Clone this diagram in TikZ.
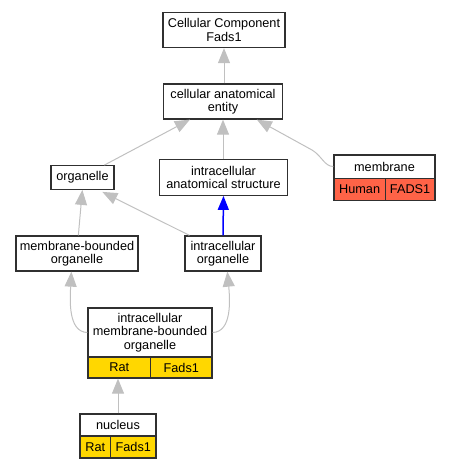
\documentclass[tikz,border=0pt]{standalone}
\usepackage{fontspec}
\setmainfont{Liberation Sans}
\usetikzlibrary{arrows.meta,calc}
\definecolor{edgegray}{HTML}{C0C0C0}
\definecolor{boxline}{HTML}{303030}
\definecolor{tomatofill}{HTML}{FF6347}
\definecolor{goldfill}{HTML}{FFD700}
\tikzset{
  box/.style={draw=boxline, line width=1.3pt, fill=white, inner sep=0pt, align=center,
    font=\fontsize{12.7}{13.5}\selectfont},
  humancell/.style={box, fill=tomatofill},
  ratcell/.style={box, fill=goldfill},
  edge/.style={draw=edgegray, line width=1pt, -{Triangle[length=15pt,width=12pt,fill=edgegray]}},
  blueedge/.style={draw=blue, line width=1.5pt, -{Triangle[length=14pt,width=11pt,fill=blue]}}
}
\begin{document}
\begin{tikzpicture}[x=1pt,y=-1pt]
\useasboundingbox (0,0) rectangle (449,469);
% nodes
\node[box, minimum width=122pt, minimum height=35pt] (cc) at (224,30) {Cellular Component\\Fads1};
\node[box, minimum width=119pt, minimum height=35pt] (cae) at (223,101.5) {cellular anatomical\\entity};
\node[box, minimum width=63pt, minimum height=23.5pt] (org) at (82.5,177.5) {organelle};
\node[box, minimum width=128pt, minimum height=35.5pt] (ias) at (223.5,177.5) {intracellular\\anatomical structure};
\node[box, minimum width=101pt, minimum height=23.3pt] (memh) at (384.5,166.6) {membrane};
\node[humancell, minimum width=51.3pt, minimum height=22.4pt] (memA) at (359.6,189.5) {Human};
\node[humancell, minimum width=49.7pt, minimum height=22.4pt] (memB) at (410.1,189.5) {FADS1};
\node[box, minimum width=122pt, minimum height=35pt] (mbo) at (77,253.5) {membrane-bounded\\organelle};
\node[box, minimum width=76pt, minimum height=35pt] (io) at (223,253.5) {intracellular\\organelle};
\node[box, minimum width=124pt, minimum height=49pt] (imboh) at (150,332.5) {intracellular\\membrane-bounded\\organelle};
\node[ratcell, minimum width=62.7pt, minimum height=21pt] (imboA) at (119.3,367.5) {Rat};
\node[ratcell, minimum width=61.3pt, minimum height=21pt] (imboB) at (181.3,367.5) {Fads1};
\node[box, minimum width=76pt, minimum height=22pt] (nuch) at (118,425) {nucleus};
\node[ratcell, minimum width=30.7pt, minimum height=22pt] (nucA) at (95.3,447) {Rat};
\node[ratcell, minimum width=45.3pt, minimum height=22pt] (nucB) at (133.3,447) {Fads1};
% edges
\draw[edge] (cae.north -| cc.north) -- (cc.south);
\draw[edge] ($(org.north west)+(54,0)$) -- ($(cae.south west)+(27,0)$);
\draw[edge] (ias.north -| cae.south) -- (cae.south);
\coordinate (mbend) at (312,150);
\draw[edge] (memh.west) .. controls (324,166) and (322,156) .. (mbend) -- ($(cae.south west)+(94,0)$);
\draw[edge] ($(mbo.north west)+(63,0)$) -- ($(org.south west)+(32,0)$);
\draw[edge] ($(io.north west)+(5,0)$) -- ($(org.south west)+(52,2)$);
\draw[blueedge] (io.north) -- (ias.south);
\draw[edge] (imboh.west) .. controls (68,332) and (70,300) .. ($(mbo.south west)+(56,0)$);
\draw[edge] (imboh.east) .. controls (232,332) and (230,300) .. ($(io.south west)+(43,0)$);
\draw[edge] (nuch.north) -- (imboA.south -| nuch.north);
\end{tikzpicture}
\end{document}
